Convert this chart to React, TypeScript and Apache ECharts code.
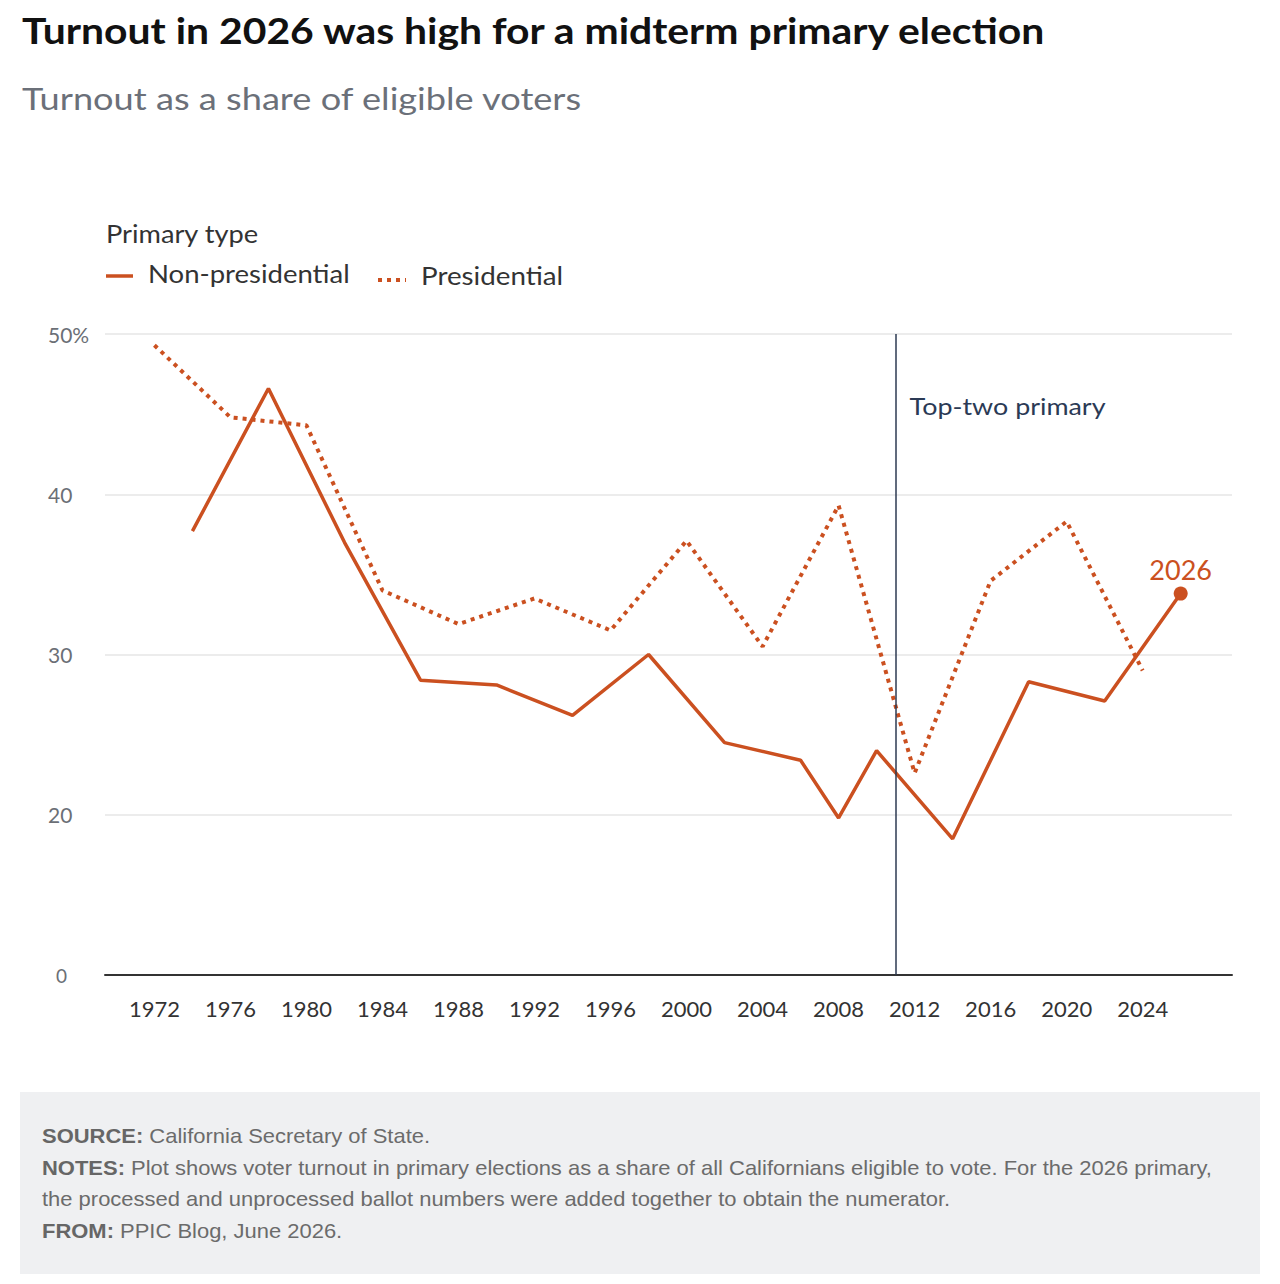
import React, { useEffect, useRef } from "react";
import * as echarts from "echarts";

const nonPresYears = [1974, 1978, 1982, 1986, 1990, 1994, 1998, 2002, 2006, 2008, 2010, 2014, 2018, 2022, 2026];
const nonPresValues = [37.7, 46.6, 37.0, 28.4, 28.1, 26.2, 30.0, 24.5, 23.4, 19.8, 24.0, 18.5, 28.3, 27.1, 33.8];
const presYears = [1972, 1976, 1980, 1984, 1988, 1992, 1996, 2000, 2004, 2008, 2012, 2016, 2020, 2024];
const presValues = [49.3, 44.8, 44.3, 34.0, 31.9, 33.5, 31.5, 37.1, 30.5, 39.3, 22.6, 34.6, 38.3, 29.0];
const xTickLabels = [1972, 1976, 1980, 1984, 1988, 1992, 1996, 2000, 2004, 2008, 2012, 2016, 2020, 2024];
const yTicks = [10, 20, 30, 40, 50];
const yTickLabels = ["0", "20", "30", "40", "50%"];
const topTwoYear = 2011;
const topTwoLabel = "Top-two primary";
const endLabel = "2026";

const ORANGE = "#cb5020";
const FONT = "Lato, 'Open Sans', sans-serif";
const FOOT_FONT = "'Liberation Sans', Arial, sans-serif";

const txt = (x: number, y: number, text: string, font: string, fill: string, sx: number, extra: any = {}) => ({
  type: "text",
  x,
  y,
  scaleX: sx,
  style: { text, font, fill, verticalAlign: "middle", align: "left", ...extra },
});

export default function App() {
  const ref = useRef<HTMLDivElement>(null);
  useEffect(() => {
    const chart = echarts.init(ref.current!, undefined, { renderer: "svg" });
    const lastIdx = nonPresYears.length - 1;
    const nonPresData = nonPresYears.map((y, i) =>
      i === lastIdx
        ? {
            value: [y, nonPresValues[i]],
            symbol: "circle",
            symbolSize: 14,
            label: {
              show: true,
              position: "top",
              distance: 4,
              formatter: endLabel,
              color: ORANGE,
              fontSize: 27,
              fontFamily: FONT,
            },
          }
        : { value: [y, nonPresValues[i]], symbol: "none" }
    );
    const presData = presYears.map((y, i) => [y, presValues[i]]);

    const footLine = (y: number, b: string, t: string) =>
      txt(42, y, (b ? `{b|${b}}` : "") + t, `20px ${FOOT_FONT}`, "#6b6b6b", 1.098, {
        rich: {
          b: { fontFamily: FOOT_FONT, fontSize: 20, fontWeight: "bold", fill: "#666", color: "#666" },
        },
      });

    const option: any = {
      animation: false,
      backgroundColor: "#fff",
      grid: { left: 105, right: 48, top: 334, bottom: 309 },
      xAxis: {
        type: "value",
        min: 1969.4,
        max: 2028.7,
        axisLine: { show: true, lineStyle: { color: "#333", width: 2 } },
        axisTick: { show: false },
        splitLine: { show: false },
        axisLabel: {
          customValues: xTickLabels,
          formatter: (v: number) => String(v),
          fontSize: 22,
          color: "#333",
          fontFamily: FONT,
          margin: 22,
        },
      },
      yAxis: {
        type: "value",
        min: 10,
        max: 50,
        interval: 10,
        axisLine: { show: false },
        axisTick: { show: false },
        splitLine: { show: true, lineStyle: { color: "#e6e6e6", width: 1.5 } },
        axisLabel: {
          align: "left",
          margin: 57,
          fontSize: 21,
          color: "#6b6f76",
          fontFamily: FONT,
          formatter: (v: number) => {
            const i = yTicks.indexOf(v);
            if (i === 0) return "{z|" + yTickLabels[0] + "}";
            return i >= 0 ? yTickLabels[i] : "";
          },
          rich: { z: { fontSize: 19, color: "#6b6f76", fontFamily: FONT, padding: [0, 0, 0, 8] } },
        },
      },
      series: [
        {
          name: "Presidential",
          type: "line",
          data: presData,
          symbol: "none",
          lineStyle: { color: ORANGE, width: 4, type: [4, 5], cap: "butt" },
          itemStyle: { color: ORANGE },
          markLine: {
            silent: true,
            symbol: "none",
            label: { show: false },
            lineStyle: { color: "#2d3a52", width: 1.5, type: "solid" },
            data: [{ xAxis: topTwoYear }],
          },
          z: 2,
        },
        {
          name: "Non-presidential",
          type: "line",
          data: nonPresData,
          showSymbol: true,
          symbol: "none",
          lineStyle: { color: ORANGE, width: 3.5 },
          itemStyle: { color: ORANGE },
          z: 3,
        },
      ],
      graphic: [
        txt(22, 30, "Turnout in 2026 was high for a midterm primary election", `700 36px ${FONT}`, "#111", 1.135),
        txt(22, 98, "Turnout as a share of eligible voters", `31px ${FONT}`, "#6b7079", 1.167),
        txt(106, 233, "Primary type", `25px ${FONT}`, "#333", 1.09),
        {
          type: "line",
          shape: { x1: 106, y1: 276, x2: 133, y2: 276 },
          style: { stroke: ORANGE, lineWidth: 3.5 },
        },
        txt(148, 273, "Non-presidential", `25px ${FONT}`, "#333", 1.1),
        {
          type: "line",
          shape: { x1: 378, y1: 280, x2: 406, y2: 280 },
          style: { stroke: ORANGE, lineWidth: 4, lineDash: [4, 5] },
        },
        txt(421, 276, "Presidential", `25px ${FONT}`, "#333", 1.11),
        {
          type: "rect",
          shape: { x: 20, y: 1092, width: 1240, height: 182 },
          style: { fill: "#eff0f2" },
          z: -1,
        },
        footLine(1136, "SOURCE:", " California Secretary of State."),
        footLine(1168, "NOTES:", " Plot shows voter turnout in primary elections as a share of all Californians eligible to vote. For the 2026 primary,"),
        footLine(1199, "", "the processed and unprocessed ballot numbers were added together to obtain the numerator."),
        footLine(1231, "FROM:", " PPIC Blog, June 2026."),
      ],
    };
    chart.setOption(option);
    const p = chart.convertToPixel({ gridIndex: 0 } as any, [topTwoYear, 50]) as number[];
    chart.setOption({
      graphic: [
        ...option.graphic,
        txt(p[0] + 14, 406, topTwoLabel, `24px ${FONT}`, "#2b3a55", 1.12),
      ],
    });
    return () => chart.dispose();
  }, []);
  return (
    <div
      ref={ref}
      style={{ position: "absolute", left: 0, top: 0, width: 1280, height: 1284 }}
    />
  );
}
